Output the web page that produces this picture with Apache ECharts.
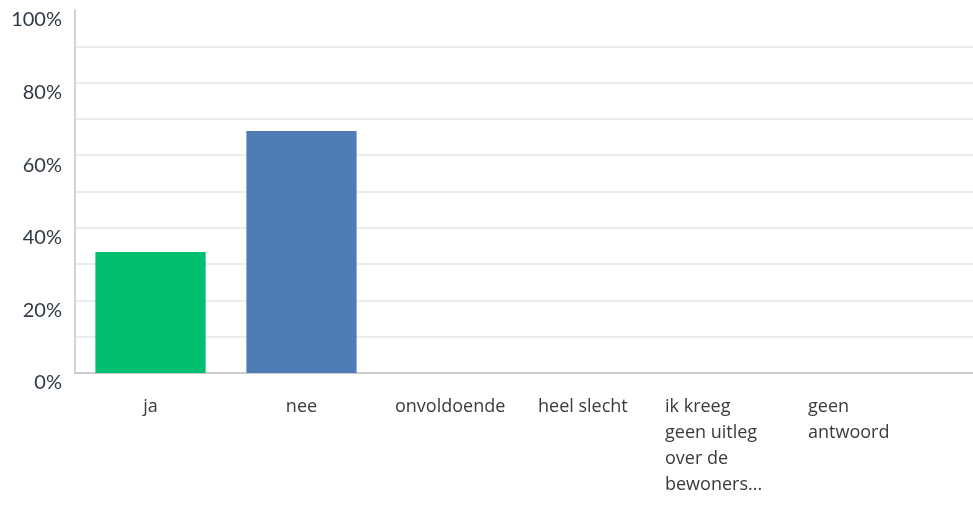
<!DOCTYPE html>
<html>
<head>
<meta charset="utf-8">
<script src="https://cdn.jsdelivr.net/npm/echarts@6/dist/echarts.min.js"></script>
<style>
  html, body { margin: 0; padding: 0; background: #fff; }
  #chart { width: 973px; height: 506px; }
</style>
</head>
<body>
<div id="chart"></div>
<script>
// Answer options (line breaks as shown under the axis)
const categories = ['ja', 'nee', 'onvoldoende', 'heel slecht', 'ik kreeg\ngeen uitleg\nover de\nbewoners...', 'geen\nantwoord'];
// Share of respondents, in percent
const values = [33.33, 66.67, 0, 0, 0, 0];
// Y axis tick labels every 20%
const yTicks = [0, 20, 40, 60, 80, 100];

const barColors = ['#00BF6F', '#507CB6', '#F9BE00', '#6BC8CD', '#FF8B4F', '#7D5BA6'];
// width of each label block (lines are left-aligned inside it)
const labelBlockWidths = [null, null, 115, 131, 179, 195];

const labelFont = { fontFamily: 'Open Sans', fontSize: 18, color: '#3a3a3a', lineHeight: 26 };
const rich = {};
labelBlockWidths.forEach((w, i) => {
  rich['c' + i] = Object.assign({ align: 'left' }, labelFont, w ? { width: w } : {});
});

const chart = echarts.init(document.getElementById('chart'), null, { renderer: 'canvas' });
chart.setOption({
  animation: false,
  grid: { left: 75, top: 10, width: 906, bottom: 133, containLabel: false, outerBoundsMode: 'none' },
  xAxis: {
    type: 'category',
    data: categories,
    axisTick: { show: false },
    axisLine: { lineStyle: { color: '#cccccc', width: 2 } },
    axisLabel: Object.assign({
      interval: 0,
      margin: 21,
      align: 'center',
      verticalAlign: 'top',
      hideOverlap: false,
      rich: rich,
      formatter: (v, i) => v.split('\n').map(l => '{c' + i + '|' + l + '}').join('\n')
    }, labelFont)
  },
  yAxis: {
    type: 'value',
    min: 0,
    max: 100,
    interval: 10,
    axisLine: { show: true, lineStyle: { color: '#d4d4d4', width: 2 } },
    axisTick: { show: false },
    splitLine: { showMinLine: false, showMaxLine: false, lineStyle: { color: '#ececec', width: 2 } },
    axisLabel: {
      margin: 13,
      fontFamily: 'Lato',
      fontSize: 20,
      color: '#2f3a44',
      verticalAlign: 'top',
      lineHeight: 20,
      formatter: v => yTicks.includes(v) ? v + '%' : ''
    }
  },
  series: [{
    type: 'bar',
    barCategoryGap: '27%',
    data: values.map((v, i) => ({ value: v, itemStyle: { color: barColors[i] } }))
  }]
});
</script>
</body>
</html>
